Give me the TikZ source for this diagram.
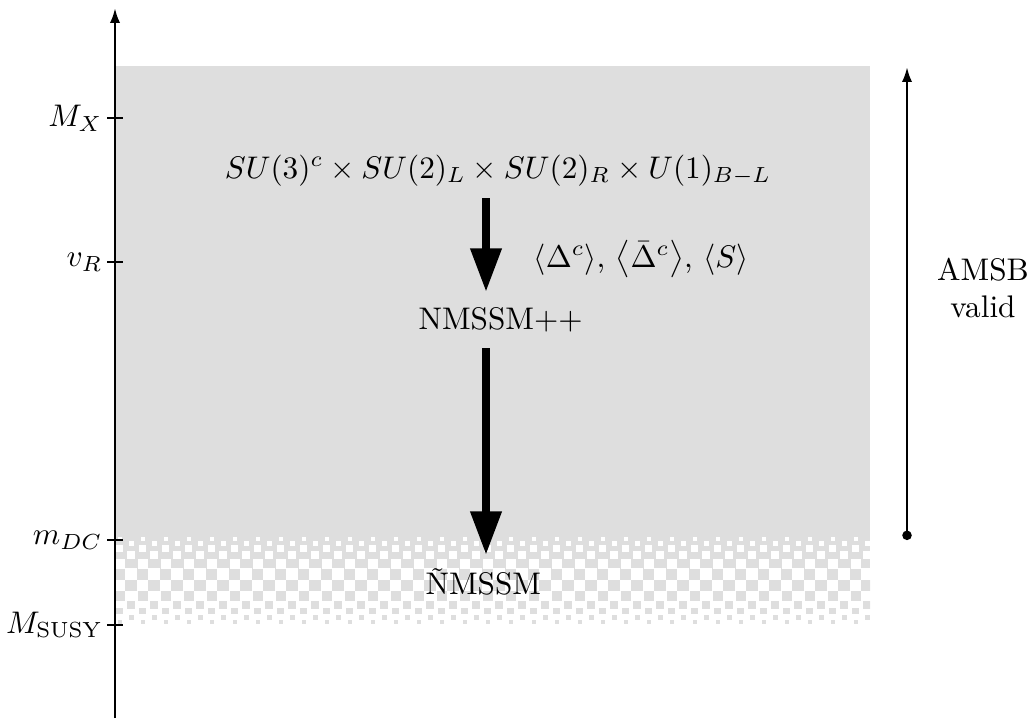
\documentclass[tikz,border=0pt]{standalone}
\usepackage{amsmath}
\usetikzlibrary{arrows.meta}
\definecolor{bandgray}{RGB}{222,222,222}
\begin{document}
\begin{tikzpicture}[x=0.32pt,y=-0.32pt,
  axisline/.style={line width=0.8pt},
  tickline/.style={line width=0.6pt},
  bigarrow/.style={line width=2.6pt,-{Triangle[length=14pt,width=9.5pt]}},
  lbl/.style={inner sep=0pt}]
\useasboundingbox (0,0) rectangle (1031,723);
% shaded region
\fill[bandgray] (115,66) rectangle (870,580);
\begin{scope}
\clip (115,530) rectangle (870,630);
\foreach \yc/\s/\o in {538.5/4/11.5, 543.5/5/0, 548.5/6.5/11.5, 555/8/0, 563.5/10/11.5, 574/11.5/0}{
  \foreach \k in {-1,...,33}{
    \fill[white] ({131+\o+23*\k-\s/2},{\yc-\s/2}) rectangle ++(\s,\s);
  }
}
\foreach \yc/\s/\o in {585.5/11.5/0, 596/10/11.5, 604.5/8/0, 611/6.5/11.5, 617/5/0, 621.5/4/11.5}{
  \foreach \k in {-1,...,33}{
    \fill[bandgray] ({131+\o+23*\k-\s/2},{\yc-\s/2}) rectangle ++(\s,\s);
  }
}
\end{scope}
% axis
\coordinate (abot) at (115,718);
\coordinate (atop) at (115,8);
\draw[axisline,-{Latex[length=4.8pt,width=3.3pt]}] (abot) -- (atop);
% ticks and labels
\foreach \yy/\nm/\tx in {118/MX/{$M_X$}, 262/vR/{$v_R$}, 540/mDC/{$m_{DC}$}, 625/MS/{$M_{\text{SUSY}}$}}{
  \draw[tickline] (107,\yy) -- (123,\yy);
  \node[anchor=east,lbl] (l\nm) at (103,\yy) {\tx};
}
% nodes
\node[lbl,anchor=base] (su) at (498,178) {$SU(3)^c\times SU(2)_L\times SU(2)_R\times U(1)_{B-L}$};
\node[lbl,anchor=base west] (nm) at (418,329) {NMSSM++};
\node[lbl,anchor=base west] (tn) at (425,594) {\~NMSSM};
\node[lbl,anchor=base west] (vev) at (533,267) {$\langle\Delta^c\rangle$, $\left\langle\bar{\Delta}^c\right\rangle$, $\langle S\rangle$};
\node[align=center] (amsb) at (983,288) {AMSB\\valid};
% big arrows
\coordinate (a1s) at (486,198);
\coordinate (a1e) at (486,292);
\coordinate (a2s) at (486,348);
\coordinate (a2e) at (486,555);
\draw[bigarrow] (a1s) -- (a1e);
\draw[bigarrow] (a2s) -- (a2e);
% validity arrow
\coordinate (vbot) at (907,540);
\coordinate (vtop) at (907,67);
\draw[axisline,{Circle[length=3pt]}-{Latex[length=4.8pt,width=3.3pt]}] (vbot) -- (vtop);
\end{tikzpicture}
\end{document}
